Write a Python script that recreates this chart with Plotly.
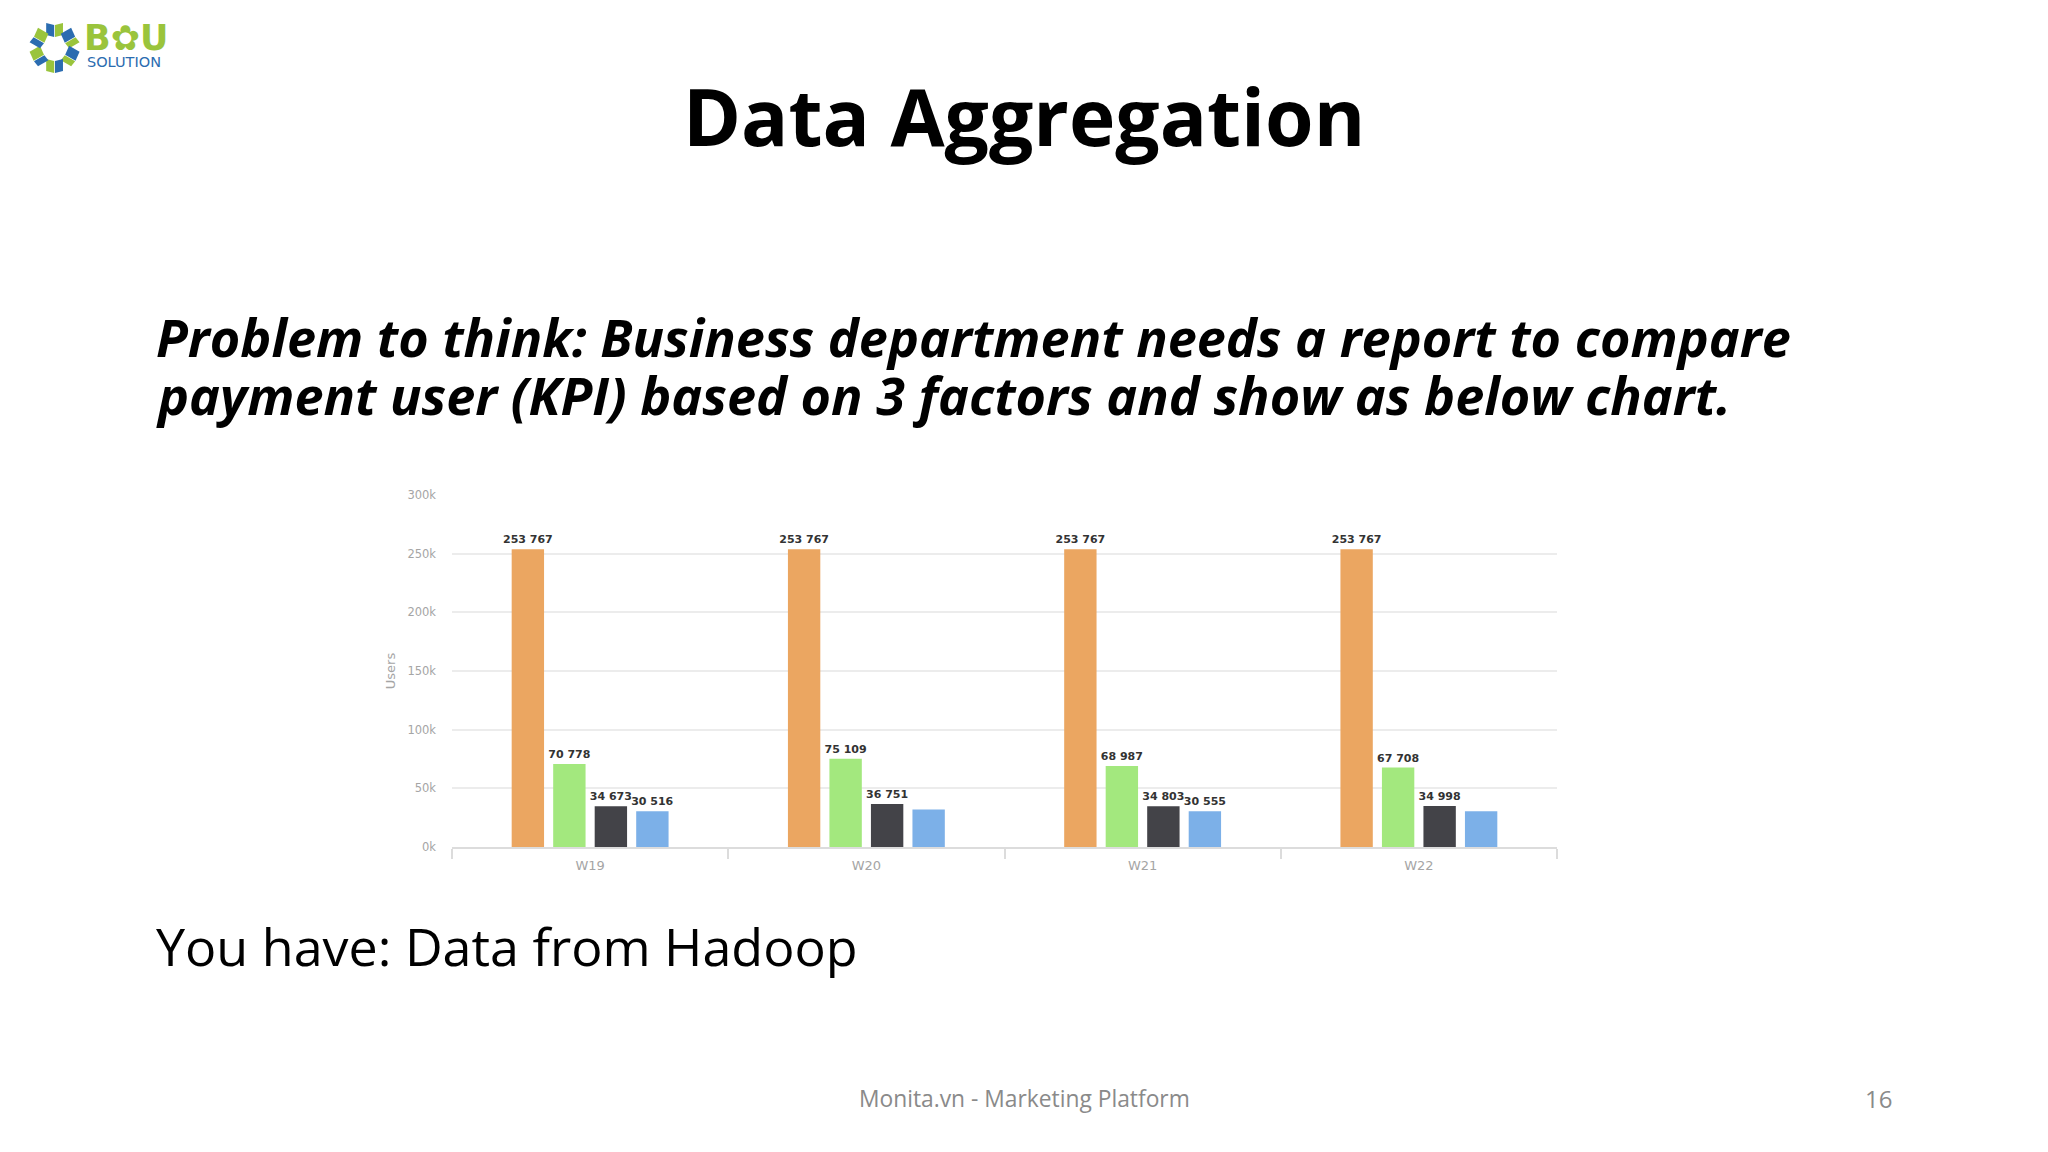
import math
import plotly.graph_objects as go

# page has an 8px body margin, so the figure is a bit smaller than the window
PAGE_W, PAGE_H = 2048, 1152
OFFSET = 8
W, H = PAGE_W - 2 * OFFSET, PAGE_H - 2 * OFFSET

# plot area edges in page pixels
PLOT_L, PLOT_R, PLOT_T, PLOT_B = 451.5, 1556.7, 495, 847

weeks = ["W19", "W20", "W21", "W22"]
series_orange = [253767, 253767, 253767, 253767]
series_green = [70778, 75109, 68987, 67708]
series_black = [34673, 36751, 34803, 34998]
series_blue = [30516, 32000, 30555, 30500]

labels_orange = ["253 767", "253 767", "253 767", "253 767"]
labels_green = ["70 778", "75 109", "68 987", "67 708"]
labels_black = ["34 673", "36 751", "34 803", "34 998"]
labels_blue = ["30 516", "", "30 555", ""]

y_ticks = [0, 50000, 100000, 150000, 200000, 250000, 300000]
y_tick_labels = ["0k", "50k", "100k", "150k", "200k", "250k", "300k"]

title_text = "Data Aggregation"
problem_lines = [
    "Problem to think: Business department needs a report to compare",
    "payment user (KPI) based on 3 factors and show as below chart.",
]
have_text = "You have: Data from Hadoop"
footer_text = "Monita.vn - Marketing Platform"
page_number = "16"

LOGO_GREEN = "#9ac43c"
LOGO_BLUE = "#2b6cb0"
CHART_FONT = "DejaVu Sans"
SLIDE_FONT = "Open Sans"


def px(x):
    return (x - PLOT_L) / (PLOT_R - PLOT_L)


def py(y):
    return (PLOT_B - y) / (PLOT_B - PLOT_T)


def slide_text(text, x, y, size, color="#000000", anchor="left", font=SLIDE_FONT, weight=400, style="normal"):
    return dict(
        text=text, x=px(x), y=py(y), xref="paper", yref="paper",
        xanchor=anchor, yanchor="middle", showarrow=False,
        font=dict(family=font, size=size, color=color, weight=weight, style=style),
    )


def logo_shapes(cx, cy):
    # ring of small cube faces, rough copy of the logo mark
    shapes = []
    for i in range(6):
        a = math.radians(60 * i - 90)
        mx, my = cx + 18 * math.cos(a), cy + 18 * math.sin(a)
        for k, col in enumerate([LOGO_BLUE, LOGO_GREEN]):
            s = -1 if k == 0 else 1
            t = a + math.pi / 2
            ux, uy = 8 * math.cos(t), 8 * math.sin(t)
            vx, vy = 6 * math.cos(a), 6 * math.sin(a)
            ox, oy = mx + s * ux * 0.55, my + s * uy * 0.55
            pts = [(ox - ux * 0.5 - vx, oy - uy * 0.5 - vy + s),
                   (ox + ux * 0.5 - vx, oy + uy * 0.5 - vy - s),
                   (ox + ux * 0.5 + vx, oy + uy * 0.5 + vy - s),
                   (ox - ux * 0.5 + vx, oy - uy * 0.5 + vy + s)]
            path = "M " + " L ".join(f"{px(p[0]):.5f} {py(p[1]):.5f}" for p in pts) + " Z"
            shapes.append(dict(type="path", path=path, xref="paper", yref="paper",
                               fillcolor=col, line=dict(width=0)))
    return shapes


def add_bars(fig, values, labels, color):
    fig.add_trace(go.Bar(
        x=weeks, y=values, text=labels, marker=dict(color=color, line=dict(width=0)),
        textposition="outside", cliponaxis=False, constraintext="none",
        textfont=dict(family=CHART_FONT, size=11, color="#333333", weight=700),
        showlegend=False,
    ))


fig = go.Figure()
add_bars(fig, series_orange, labels_orange, "#eba661")
add_bars(fig, series_green, labels_green, "#a3e87e")
add_bars(fig, series_black, labels_black, "#434348")
add_bars(fig, series_blue, labels_blue, "#7cb0e8")

annotations = [
    slide_text(title_text, 1024, 115, 78.5, anchor="center", weight=700),
    slide_text(problem_lines[0], 153, 336, 52.2, weight=700, style="italic"),
    slide_text(problem_lines[1], 153, 394, 52.2, weight=700, style="italic"),
    slide_text(have_text, 153, 945, 52),
    slide_text(footer_text, 1024, 1098, 22.8, color="#8a8a8a", anchor="center"),
    slide_text(page_number, 1878, 1098, 24, color="#8a8a8a", anchor="center"),
    slide_text("B✿U", 81, 38, 35, color=LOGO_GREEN, font="DejaVu Sans", weight=700),
    slide_text("SOLUTION", 84, 62, 14.5, color=LOGO_BLUE, font="DejaVu Sans"),
]

fig.update_layout(
    width=W, height=H,
    paper_bgcolor="#ffffff", plot_bgcolor="#ffffff",
    margin=dict(
        l=PLOT_L - OFFSET, r=OFFSET + W - PLOT_R,
        t=PLOT_T - OFFSET, b=OFFSET + H - PLOT_B, autoexpand=False,
    ),
    barmode="group", bargap=0.399, bargroupgap=0.22,
    annotations=annotations,
    shapes=logo_shapes(54, 48),
    xaxis=dict(
        type="category", categoryorder="array", categoryarray=weeks,
        showgrid=False, showline=True, linecolor="#dcdcdc", linewidth=1.5,
        ticks="outside", tickson="boundaries", ticklen=10, tickcolor="#dcdcdc", tickwidth=1.5,
        ticklabelstandoff=6,
        tickfont=dict(family=CHART_FONT, size=13, color="#a5a5a5"),
    ),
    yaxis=dict(
        range=[0, 300000], tickvals=y_ticks, ticktext=y_tick_labels,
        showgrid=True, gridcolor="#ececec", gridwidth=1.5, zeroline=False, showline=False,
        ticks="", ticklabelstandoff=15,
        tickfont=dict(family=CHART_FONT, size=11.5, color="#a5a5a5"),
        title=dict(text="Users", standoff=8, font=dict(family=CHART_FONT, size=13, color="#a5a5a5")),
    ),
)

fig.write_html("out.html")
